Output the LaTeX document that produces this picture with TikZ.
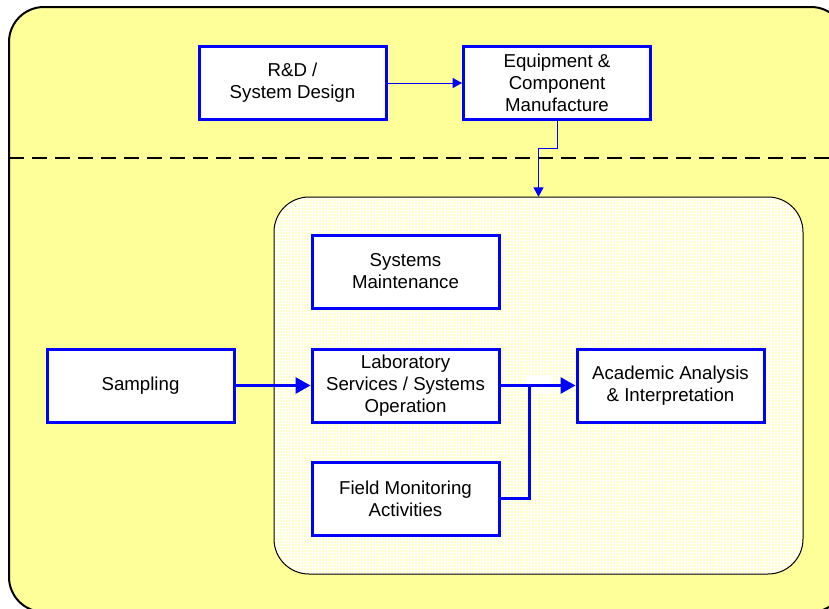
\documentclass[tikz,border=0pt]{standalone}
\usepackage{fontspec}
\setmainfont{Liberation Sans}
\usetikzlibrary{arrows.meta}
\definecolor{paleyellow}{HTML}{FFFF99}
\definecolor{meshyellow}{HTML}{FFFFC8}
\definecolor{boxblue}{HTML}{0000FF}
\tikzset{
  flowbox/.style={draw=boxblue, line width=2.25pt, fill=white,
    minimum width=140.25pt, minimum height=54.75pt, inner sep=0pt,
    align=center, font=\fontsize{14}{16.5}\selectfont},
  thinlink/.style={draw=boxblue, line width=0.75pt,
    -{Triangle[length=7pt,width=7.5pt]}},
  thicklink/.style={draw=boxblue, line width=2.25pt},
  thickarrow/.style={thicklink, -{Triangle[length=11.25pt,width=12pt]}},
}
\begin{document}
\begin{tikzpicture}[x=0.75pt,y=-0.75pt]
\useasboundingbox (0,0) rectangle (829,608);
% outer panel
\draw[fill=paleyellow, line width=1.5pt, rounded corners=26.25pt]
  (9,7) rectangle (846,612);
% separator
\draw[line width=1.5pt, dash pattern=on 11.25pt off 6pt] (9,158) -- (829,158);
% inner meshed region
\node[minimum width=396.75pt, minimum height=282.75pt, rounded corners=26.25pt,
  fill=meshyellow, inner sep=0pt] (region) at (538.5,385.5) {};
\begin{scope}
  \clip[rounded corners=26.25pt] (274,197) rectangle (803,574);
  \draw[white, line width=0.35pt, step=2.25pt] (274,197) grid (803,574);
\end{scope}
\draw[line width=0.75pt, rounded corners=26.25pt] (274,197) rectangle (803,574);

% boxes
\node[flowbox] (rd)   at (292.5,83)   {R\&D /\\System Design};
\node[flowbox] (eq)   at (557,83)     {Equipment \&\\Component\\Manufacture};
\node[flowbox] (sm)   at (405.5,271.5){Systems\\Maintenance};
\node[flowbox] (lab)  at (405.5,385.5){Laboratory\\Services / Systems\\Operation};
\node[flowbox] (fm)   at (405.5,498.5){Field Monitoring\\Activities};
\node[flowbox] (samp) at (140.5,385.5){Sampling};
\node[flowbox] (acad) at (670.5,385.5){Academic Analysis\\\& Interpretation};

% connectors
\draw[thinlink] (rd.east) -- (eq.west);
\coordinate (drop) at (557,148);
\draw[thinlink] (eq.south) -- (drop) -| (region.north);
\draw[thickarrow] (samp.east) -- (lab.west);
\fill[white] (525,376) rectangle (552,393);
\coordinate (join) at (529,385.5);
\draw[thickarrow] (lab.east) -- (acad.west);
\draw[thicklink] (fm.east) -| (join);
\end{tikzpicture}
\end{document}
